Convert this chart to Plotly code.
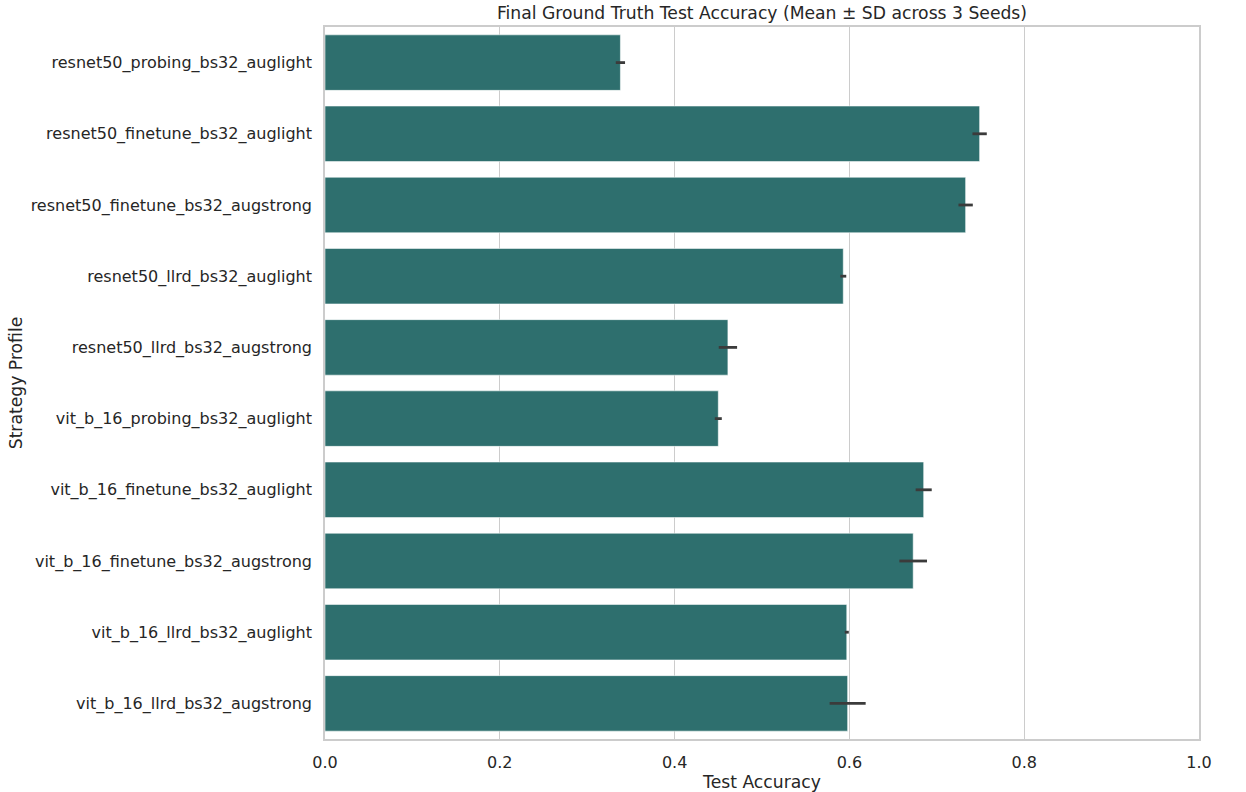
import plotly.graph_objects as go

strategies = [
    "resnet50_probing_bs32_auglight",
    "resnet50_finetune_bs32_auglight",
    "resnet50_finetune_bs32_augstrong",
    "resnet50_llrd_bs32_auglight",
    "resnet50_llrd_bs32_augstrong",
    "vit_b_16_probing_bs32_auglight",
    "vit_b_16_finetune_bs32_auglight",
    "vit_b_16_finetune_bs32_augstrong",
    "vit_b_16_llrd_bs32_auglight",
    "vit_b_16_llrd_bs32_augstrong",
]
mean_acc = [0.338, 0.749, 0.733, 0.593, 0.461, 0.450, 0.685, 0.673, 0.597, 0.598]
sd_acc = [0.0053, 0.0082, 0.0082, 0.0034, 0.0105, 0.0040, 0.0092, 0.0158, 0.0023, 0.0206]
x_ticks = [0.0, 0.2, 0.4, 0.6, 0.8, 1.0]

FONT = "DejaVu Sans"
TXT = "#262626"

fig = go.Figure(
    go.Bar(
        x=mean_acc,
        y=strategies,
        orientation="h",
        marker=dict(color="#2e6f6e", line=dict(color="rgba(255,255,255,0.55)", width=1)),
        error_x=dict(type="data", array=sd_acc, visible=True, color="#3b3b3b", thickness=2.8, width=0),
        showlegend=False,
    )
)

fig.update_layout(
    width=1246,
    height=792,
    margin=dict(l=325, r=47, t=27, b=53),
    paper_bgcolor="white",
    plot_bgcolor="white",
    bargap=0.22,
    font=dict(family=FONT, size=16, color=TXT),
    title=dict(
        text="Final Ground Truth Test Accuracy (Mean ± SD across 3 Seeds)",
        x=(325 + (1246 - 47 - 325) / 2) / 1246,
        xanchor="center",
        y=1 - 13 / 792,
        yanchor="middle",
        font=dict(family=FONT, size=17.2, color=TXT),
    ),
    xaxis=dict(
        range=[0, 1],
        tickvals=x_ticks,
        ticktext=[f"{v:.1f}" for v in x_ticks],
        showgrid=True,
        gridcolor="#cccccc",
        gridwidth=1.4,
        showline=True,
        linecolor="#cccccc",
        linewidth=1.6,
        mirror=True,
        ticks="",
        zeroline=False,
        automargin=False,
        ticklabelstandoff=8,
        tickfont=dict(size=16, color=TXT),
        title=dict(text="Test Accuracy", font=dict(size=17.2, color=TXT), standoff=6),
    ),
    yaxis=dict(
        autorange="reversed",
        showgrid=False,
        showline=True,
        linecolor="#cccccc",
        linewidth=1.6,
        mirror=True,
        ticks="",
        automargin=False,
        ticklabelstandoff=8,
        tickfont=dict(size=16, color=TXT),
        title=dict(text="Strategy Profile", font=dict(size=17.2, color=TXT), standoff=4),
    ),
)

fig.write_html("out.html")
